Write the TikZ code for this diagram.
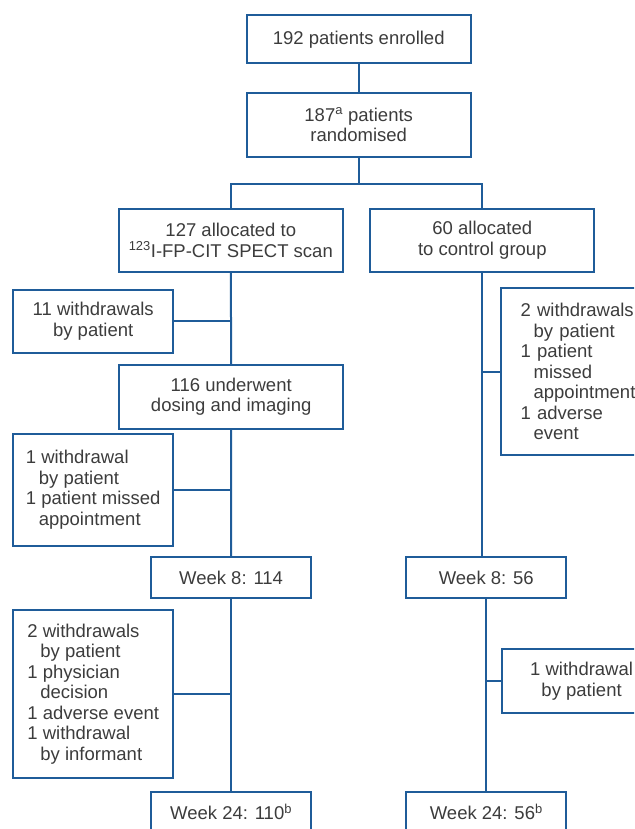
\documentclass[tikz,border=0pt]{standalone}
\usepackage{fontspec}
\setmainfont{Liberation Sans}
\definecolor{flowblue}{HTML}{1F5C99}
\definecolor{flowtext}{HTML}{3C3C3C}
\newcommand{\ind}{\hspace*{13pt}}

\begin{document}
\begin{tikzpicture}[x=1pt,y=-1pt]

        \useasboundingbox (0,0) rectangle (634,829);
        \clip (0,0) rectangle (634,829);

        \begin{scope}[every node/.style={draw=flowblue, line width=2pt, text=flowtext, inner sep=0pt,
            font=\fontsize{18.5}{20.5}\selectfont}]
          \node[align=center, minimum width=224, minimum height=48] (enrol) at (358.7,39.5)  {192 patients enrolled};
          \node[align=center, minimum width=224, minimum height=64] (rand)  at (358.7,124.7) {187\textsuperscript{a} patients\\randomised};
          \node[align=center, minimum width=224, minimum height=63] (scan)  at (230.8,240.2) {127 allocated to\\\textsuperscript{123}I-FP-CIT SPECT scan};
          \node[align=center, minimum width=224, minimum height=63] (ctrl)  at (482.3,240.2) {60 allocated\\to control group};
          \node[align=center, minimum width=160, minimum height=63] (wdA)   at (93.2,321)    {11 withdrawals\\by patient};
          \node[align=center, minimum width=224, minimum height=64] (dose)  at (231.2,396.9) {116 underwent\\dosing and imaging};
          \node[align=left,   minimum width=160, minimum height=112] (wdB)  at (93.2,489.9)  {1 withdrawal\\\ind by patient\\1 patient missed\\\ind appointment};
          \node[align=left, text width=120, inner xsep=20, minimum height=167] (wdC) at (580.6,371.7) {2 withdrawals\\\ind by patient\\1 patient\\\ind missed\\\ind appointment\\1 adverse\\\ind event};
          \node[align=center, minimum width=160, minimum height=41] (wkAs)  at (231.1,577.7) {Week 8: 114};
          \node[align=center, minimum width=160, minimum height=41] (wkAc)  at (486.3,577.7) {Week 8: 56};
          \node[align=left,   minimum width=160, minimum height=168] (wdD)  at (93.2,693.9)  {2 withdrawals\\\ind by patient\\1 physician\\\ind decision\\1 adverse event\\1 withdrawal\\\ind by informant};
          \node[align=center, minimum width=160, minimum height=64] (wdE)   at (581.6,681.3) {1 withdrawal\\by patient};
          \node[align=center, minimum width=160, minimum height=41] (wkBs)  at (231.1,812)   {Week 24: 110\textsuperscript{b}};
          \node[align=center, minimum width=160, minimum height=41] (wkBc)  at (486.3,812)   {Week 24: 56\textsuperscript{b}};
        \end{scope}

        \coordinate (split) at (358.7,184.3);

        \begin{scope}[every path/.style={draw=flowblue, line width=2pt}]
          \draw (enrol) -- (rand);
          \draw (rand) -- (split);
          \draw (scan.north) |- (split) -| (ctrl.north);
          % scan arm
          \draw (scan) -- (dose);
          \draw (dose) -- (wkAs);
          \draw (wkAs) -- (wkBs);
          \draw (wdA.east) -- (wdA.east -| scan.south);
          \draw (wdB.east) -- (wdB.east -| dose.south);
          \draw (wdD.east) -- (wdD.east -| wkAs.south);
          % control arm
          \draw (ctrl.south) -- (ctrl.south |- wkAc.north);
          \draw (wkAc) -- (wkBc);
          \draw (wdC.west) -- (wdC.west -| ctrl.south);
          \draw (wdE.west) -- (wdE.west -| wkAc.south);
        \end{scope}

      \end{tikzpicture}
\end{document}
